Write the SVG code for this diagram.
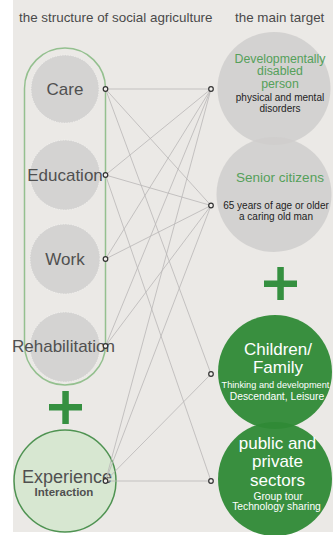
<svg xmlns="http://www.w3.org/2000/svg" width="333" height="535" viewBox="0 0 333 535">
<defs>
<style>
.t{font-family:"Liberation Sans",Arial,sans-serif;}
.title{font-size:13.4px;fill:#4a4a4a;}
.lbl{font-size:17px;fill:#505050;text-anchor:middle;}
.gc{fill:#d4d3d2;stroke:#f4f3f1;stroke-width:1;stroke-dasharray:1 1.6;}
.rc{fill:#cfcecd;fill-opacity:0.85;}
.gr{fill:#2f8a36;fill-opacity:0.95;}
.gt{font-size:13.5px;fill:#55a05a;text-anchor:middle;}
.gt2{font-size:12.3px;fill:#55a05a;text-anchor:middle;}
.st{font-size:10px;fill:#1e1e1e;text-anchor:middle;}
.wt{font-size:17px;fill:#ffffff;text-anchor:middle;}
.ws{font-size:10.3px;fill:#ffffff;text-anchor:middle;}
.ws2{font-size:9.2px;fill:#ffffff;text-anchor:middle;}
.pin{fill:#f2f0ed;stroke:#333;stroke-width:1.2;}
.plus{fill:#359040;}
#connectors line{stroke:#b9b6b6;stroke-width:0.8;}
</style>
</defs>
<rect x="0" y="0" width="333" height="535" fill="#ffffff"/>
<rect x="13" y="0" width="320" height="532" fill="#ebe9e6"/>

<text class="t title" x="19" y="22">the structure of social agriculture</text>
<text class="t title" x="235" y="22">the main target</text>

<g id="structure-frame">
<rect x="24.5" y="48" width="81" height="337" rx="40.5" ry="40.5" fill="none" stroke="#94c08f" stroke-width="1.5"/>
</g>

<g id="care">
<circle class="gc" cx="65" cy="89" r="34"/>
<text class="t lbl" x="65" y="94.5">Care</text>
</g>
<g id="education">
<circle class="gc" cx="65" cy="175" r="35"/>
<text class="t lbl" x="65" y="181">Education</text>
</g>
<g id="work">
<circle class="gc" cx="65" cy="259" r="35"/>
<text class="t lbl" x="65" y="265">Work</text>
</g>
<g id="rehabilitation">
<circle class="gc" cx="65" cy="347" r="35"/>
<text class="t lbl" x="63.5" y="352">Rehabilitation</text>
</g>
<g id="plus-left">
<rect class="plus" x="49" y="404" width="33" height="6.5"/>
<rect class="plus" x="62.3" y="391" width="6.5" height="33"/>
</g>
<g id="experience">
<circle cx="65" cy="481" r="51" fill="#d7e7d1" stroke="#4f9352" stroke-width="1.5"/>
<text class="t" x="67" y="483" font-size="18" fill="#505050" text-anchor="middle">Experience</text>
<text class="t" x="64" y="496" font-size="11.5" font-weight="bold" fill="#505050" text-anchor="middle">Interaction</text>
</g>

<g id="disabled">
<circle class="rc" cx="274" cy="88.5" r="56.5"/>
<text class="t gt2" x="280" y="62.5">Developmentally</text>
<text class="t gt2" x="280" y="75">disabled</text>
<text class="t gt2" x="280" y="87.5">person</text>
<text class="t st" x="280" y="100.5">physical and mental</text>
<text class="t st" x="280" y="112">disorders</text>
</g>
<g id="senior">
<circle class="rc" cx="274" cy="194.5" r="57.5"/>
<text class="t gt" x="280" y="181.5">Senior citizens</text>
<text class="t st" x="276" y="208.5">65 years of age or older</text>
<text class="t st" x="276" y="219.5">a caring old man</text>
</g>
<g id="plus-right">
<rect class="plus" x="264" y="280.5" width="33" height="6.5"/>
<rect class="plus" x="277.3" y="267" width="6.5" height="33"/>
</g>
<g id="children">
<circle class="gr" cx="275" cy="372" r="57"/>
<text class="t wt" x="278" y="355">Children/</text>
<text class="t wt" x="278" y="373">Family</text>
<text class="t ws2" x="275.5" y="388">Thinking and development</text>
<text class="t ws" x="277" y="399.5">Descendant, Leisure</text>
</g>
<g id="public">
<circle class="gr" cx="275" cy="479" r="57"/>
<text class="t wt" x="277.5" y="449">public and</text>
<text class="t wt" x="277.5" y="466.5">private</text>
<text class="t wt" x="277.5" y="485.5">sectors</text>
<text class="t ws" x="278" y="500">Group tour</text>
<text class="t ws" x="276.5" y="510">Technology sharing</text>
</g>

<g id="connectors">
<line x1="105.5" y1="89" x2="211" y2="89"/>
<line x1="105.5" y1="89" x2="211" y2="205.5"/>
<line x1="105.5" y1="89" x2="211" y2="374"/>
<line x1="105.5" y1="175" x2="211" y2="89"/>
<line x1="105.5" y1="175" x2="211" y2="205.5"/>
<line x1="105.5" y1="175" x2="211" y2="481"/>
<line x1="105.5" y1="259" x2="211" y2="89"/>
<line x1="105.5" y1="259" x2="211" y2="205.5"/>
<line x1="105.5" y1="346" x2="211" y2="89"/>
<line x1="105.5" y1="346" x2="211" y2="205.5"/>
<line x1="105.5" y1="481" x2="211" y2="89"/>
<line x1="105.5" y1="481" x2="211" y2="205.5"/>
<line x1="105.5" y1="481" x2="211" y2="374"/>
<line x1="105.5" y1="481" x2="211" y2="481"/>
</g>

<g id="pins">
<circle class="pin" cx="105.5" cy="89" r="2.3"/>
<circle class="pin" cx="105.5" cy="175" r="2.3"/>
<circle class="pin" cx="105.5" cy="259" r="2.3"/>
<circle class="pin" cx="105.5" cy="346" r="2.3"/>
<circle class="pin" cx="105.5" cy="481" r="2.3"/>
<circle class="pin" cx="211" cy="89" r="2.3"/>
<circle class="pin" cx="211" cy="205.5" r="2.3"/>
<circle class="pin" cx="211" cy="374" r="2.3"/>
<circle class="pin" cx="211" cy="481" r="2.3"/>
</g>
</svg>
